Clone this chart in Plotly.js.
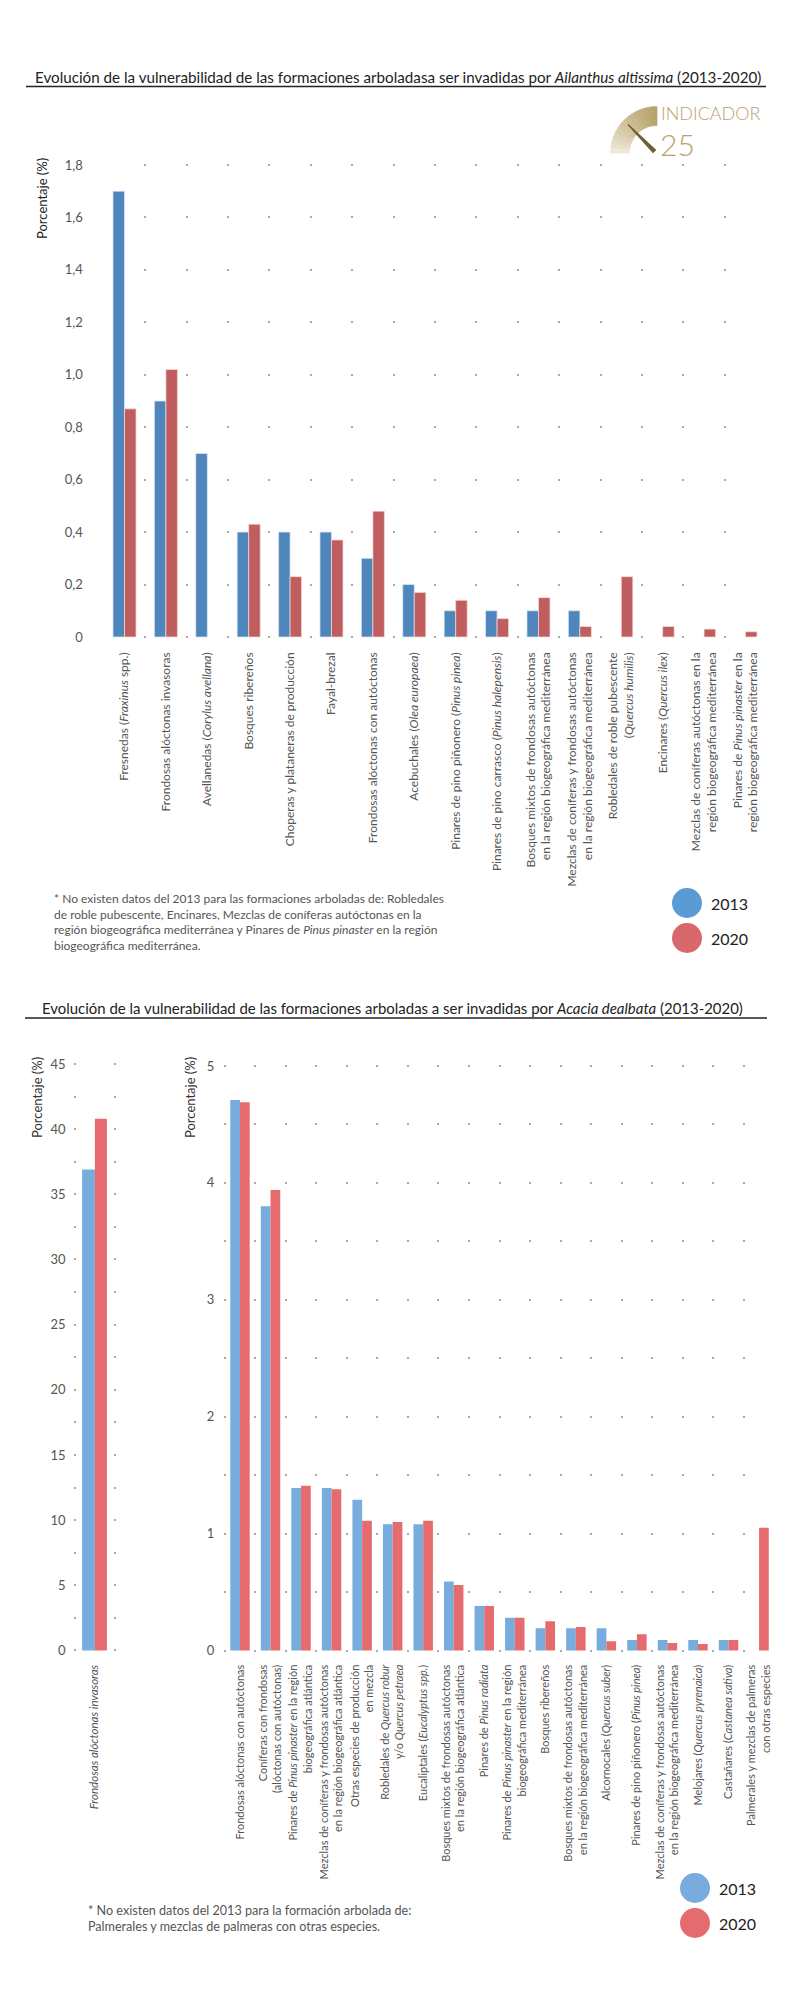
<!DOCTYPE html>
<html><head><meta charset="utf-8">
<script src="https://cdn.plot.ly/plotly-3.0.1.min.js"></script>
<style>body{margin:0;background:#fff}#chart{width:800px;height:2000px}</style>
</head><body><div id="chart"></div>
<script>
// ---------- DATA ----------
const seriesNames = ["2013", "2020"];

const ailanthusCategories = [
  "Fresnedas (<i>Fraxinus</i> spp.)",
  "Frondosas alóctonas invasoras",
  "Avellanedas (<i>Corylus avellana</i>)",
  "Bosques ribereños",
  "Choperas y plataneras de producción",
  "Fayal-brezal",
  "Frondosas alóctonas con autóctonas",
  "Acebuchales (<i>Olea europaea</i>)",
  "Pinares de pino piñonero (<i>Pinus pinea</i>)",
  "Pinares de pino carrasco (<i>Pinus halepensis</i>)",
  "Bosques mixtos de frondosas autóctonas<br>en la región biogeográfica mediterránea",
  "Mezclas de coníferas y frondosas autóctonas<br>en la región biogeográfica mediterránea",
  "Robledales de roble pubescente<br>(<i>Quercus humilis</i>)",
  "Encinares (<i>Quercus ilex</i>)",
  "Mezclas de coníferas autóctonas en la<br>región biogeográfica mediterránea",
  "Pinares de <i>Pinus pinaster</i> en la<br>región biogeográfica mediterránea"
];
const ailanthus2013 = [1.70, 0.90, 0.70, 0.40, 0.40, 0.40, 0.30, 0.20, 0.10, 0.10, 0.10, 0.10, null, null, null, null];
const ailanthus2020 = [0.87, 1.02, null, 0.43, 0.23, 0.37, 0.48, 0.17, 0.14, 0.07, 0.15, 0.04, 0.23, 0.04, 0.03, 0.02];
const ailanthusTickVals = [0, 0.2, 0.4, 0.6, 0.8, 1.0, 1.2, 1.4, 1.6, 1.8];
const ailanthusTickText = ["0", "0,2", "0,4", "0,6", "0,8", "1,0", "1,2", "1,4", "1,6", "1,8"];

const acaciaLeftCategories = ["<i>Frondosas alóctonas invasoras</i>"];
const acaciaLeft2013 = [36.9];
const acaciaLeft2020 = [40.8];
const acaciaLeftTickVals = [0, 5, 10, 15, 20, 25, 30, 35, 40, 45];

const acaciaCategories = [
  "Frondosas alóctonas con autóctonas",
  "Coníferas con frondosas<br>(alóctonas con autóctonas)",
  "Pinares de <i>Pinus pinaster</i> en la región<br>biogeográfica atlántica",
  "Mezclas de coníferas y frondosas autóctonas<br>en la región biogeográfica atlántica",
  "Otras especies de producción<br>en mezcla",
  "Robledales de <i>Quercus robur</i><br>y/o <i>Quercus petraea</i>",
  "Eucaliptales (<i>Eucalyptus spp.</i>)",
  "Bosques mixtos de frondosas autóctonas<br>en la región biogeográfica atlántica",
  "Pinares de <i>Pinus radiata</i>",
  "Pinares de <i>Pinus pinaster</i> en la región<br>biogeográfica mediterránea",
  "Bosques ribereños",
  "Bosques mixtos de frondosas autóctonas<br>en la región biogeográfica mediterránea",
  "Alcornocales (<i>Quercus suber</i>)",
  "Pinares de pino piñonero (<i>Pinus pinea</i>)",
  "Mezclas de coníferas y frondosas autóctonas<br>en la región biogeográfica mediterránea",
  "Melojares (<i>Quercus pyrenaica</i>)",
  "Castañares (<i>Castanea sativa</i>)",
  "Palmerales y mezclas de palmeras<br>con otras especies"
];
const acacia2013 = [4.71, 3.80, 1.39, 1.39, 1.29, 1.08, 1.08, 0.59, 0.38, 0.28, 0.19, 0.19, 0.19, 0.09, 0.09, 0.09, 0.09, null];
const acacia2020 = [4.69, 3.94, 1.41, 1.38, 1.11, 1.10, 1.11, 0.56, 0.38, 0.28, 0.25, 0.20, 0.08, 0.14, 0.065, 0.055, 0.09, 1.05];
const acaciaTickVals = [0, 1, 2, 3, 4, 5];

// ---------- STYLE HELPERS ----------
const W = 800, H = 2000;
const px = x => x / W;
const py = y => 1 - y / H;
const FONT = "Lato, 'Open Sans', sans-serif";
const gray = "#555";
const dotColor = "#a9a9a9";

const c1Blue = "#4f86bc", c1Red = "#bf5d5f";
const c2Blue = "#77acdd", c2Red = "#e56b6e";

const traces = [
  {type: "bar", x: ailanthusCategories, y: ailanthus2013, name: seriesNames[0], xaxis: "x", yaxis: "y",
   width: 0.278, offset: -0.278, marker: {color: c1Blue, line: {color: "rgba(220,232,245,0.9)", width: 0.8}}},
  {type: "bar", x: ailanthusCategories, y: ailanthus2020, name: seriesNames[1], xaxis: "x", yaxis: "y",
   width: 0.278, offset: 0, marker: {color: c1Red, line: {color: "rgba(245,220,220,0.9)", width: 0.8}}},
  {type: "bar", x: acaciaLeftCategories, y: acaciaLeft2013, name: seriesNames[0], xaxis: "x2", yaxis: "y2",
   width: 0.32, offset: -0.31, marker: {color: c2Blue}},
  {type: "bar", x: acaciaLeftCategories, y: acaciaLeft2020, name: seriesNames[1], xaxis: "x2", yaxis: "y2",
   width: 0.30, offset: 0.01, marker: {color: c2Red}},
  {type: "bar", x: acaciaCategories, y: acacia2013, name: seriesNames[0], xaxis: "x3", yaxis: "y3",
   width: 0.318, offset: -0.318, marker: {color: c2Blue}},
  {type: "bar", x: acaciaCategories, y: acacia2020, name: seriesNames[1], xaxis: "x3", yaxis: "y3",
   width: 0.318, offset: 0, marker: {color: c2Red}}
];

function catAxis(domain, anchor, range, dash, fontSize, standoff) {
  return {
    domain: domain, anchor: anchor, type: "category", range: range,
    tickangle: -90, tickson: "boundaries", ticks: "",
    showgrid: true, gridcolor: dotColor, gridwidth: 2, griddash: dash,
    showline: false, zeroline: false, fixedrange: true,
    tickfont: {family: FONT, size: fontSize, color: gray},
    ticklabelstandoff: standoff, automargin: false
  };
}
function valAxis(domain, anchor, range, tickvals, ticktext, fontSize, standoff) {
  return {
    domain: domain, anchor: anchor, range: range, tickmode: "array",
    tickvals: tickvals, ticktext: ticktext, showgrid: false, zeroline: false,
    showline: false, ticks: "", fixedrange: true,
    tickfont: {family: FONT, size: fontSize, color: gray},
    ticklabelstandoff: standoff, automargin: false
  };
}

// ---------- LOGO (decoration) ----------
const shapes = [];
const logoCx = 657, logoCy = 153, rOut = 46.5, rIn = 27.5;
const nSeg = 14;
for (let s = 0; s < nSeg; s++) {
  const a0 = Math.PI - (s / nSeg) * Math.PI / 2;
  const a1 = Math.PI - ((s + 1) / nSeg) * Math.PI / 2;
  const t = (s + 0.5) / nSeg;
  const r = Math.round(245 + (181 - 245) * Math.pow(t, 0.7));
  const g = Math.round(241 + (161 - 241) * Math.pow(t, 0.7));
  const b = Math.round(228 + (104 - 228) * Math.pow(t, 0.7));
  const pts = [];
  const steps = 4;
  for (let k = 0; k <= steps; k++) {
    const a = a0 + (a1 - a0) * k / steps;
    pts.push([logoCx + rOut * Math.cos(a), logoCy - rOut * Math.sin(a)]);
  }
  for (let k = steps; k >= 0; k--) {
    const a = a0 + (a1 - a0) * k / steps;
    pts.push([logoCx + rIn * Math.cos(a), logoCy - rIn * Math.sin(a)]);
  }
  const path = pts.map((p, i) => (i ? "L" : "M") + px(p[0]).toFixed(5) + "," + py(p[1]).toFixed(5)).join(" ") + " Z";
  const col = `rgb(${r},${g},${b})`;
  shapes.push({type: "path", xref: "paper", yref: "paper", path: path, fillcolor: col, line: {color: col, width: 0.6}});
}
// gauge needle
shapes.push({type: "path", xref: "paper", yref: "paper",
  path: `M${px(628)},${py(124.5)} L${px(655.5)},${py(150)} L${px(653)},${py(152.5)} Z`,
  fillcolor: "#6e6033", line: {color: "#6e6033", width: 1.2}});

// underlines
shapes.push({type: "line", xref: "paper", yref: "paper", x0: px(26), x1: px(766), y0: py(86.5), y1: py(86.5), line: {color: "#222", width: 1.4}});
shapes.push({type: "line", xref: "paper", yref: "paper", x0: px(25), x1: px(767), y0: py(1018), y1: py(1018), line: {color: "#222", width: 1.4}});

// legend circles
function circle(cx, cy, rr, col) {
  return {type: "circle", xref: "paper", yref: "paper", x0: px(cx - rr), x1: px(cx + rr), y0: py(cy + rr), y1: py(cy - rr), fillcolor: col, line: {width: 0}};
}
shapes.push(circle(687, 903, 15, "#5b9bd5"));
shapes.push(circle(687, 938, 15, "#d9686a"));
shapes.push(circle(695, 1888, 15, c2Blue));
shapes.push(circle(695, 1923, 15, c2Red));

function ann(x, y, text, size, color, extra) {
  return Object.assign({xref: "paper", yref: "paper", x: px(x), y: py(y), text: text, showarrow: false,
    xanchor: "left", yanchor: "middle", align: "left",
    font: {family: FONT, size: size, color: color}}, extra || {});
}
const gold = "#b7a36b";
const annotations = [
  ann(33, 77, "Evolución de la vulnerabilidad de las formaciones arboladasa ser invadidas por <i>Ailanthus altissima</i> (2013-2020)", 15.2, "#222"),
  ann(40, 1008, "Evolución de la vulnerabilidad de las formaciones arboladas a ser invadidas por <i>Acacia dealbata</i> (2013-2020)", 14.95, "#222"),
  ann(660, 101, "INDICADOR", 18, gold, {yanchor: "top", borderpad: 0, font: {family: FONT, size: 18, color: gold, weight: 300}}),
  ann(659, 125, "25", 30, gold, {yanchor: "top", borderpad: 0, font: {family: FONT, size: 30, color: gold, weight: 300}}),
  ann(42, 199, "Porcentaje (%)", 13, "#222", {textangle: -90, xanchor: "center"}),
  ann(37, 1098, "Porcentaje (%)", 13, "#333", {textangle: -90, xanchor: "center"}),
  ann(190, 1098, "Porcentaje (%)", 13, "#333", {textangle: -90, xanchor: "center"}),
  ann(52, 889, "* No existen datos del 2013 para las formaciones arboladas de: Robledales<br>de roble pubescente, Encinares, Mezclas de coníferas autóctonas en la<br>región biogeográfica mediterránea y Pinares de <i>Pinus pinaster</i> en la región<br>biogeográfica mediterránea.", 12, gray, {yanchor: "top"}),
  ann(86, 1901, "* No existen datos del 2013 para la formación arbolada de:<br>Palmerales y mezclas de palmeras con otras especies.", 12.6, gray, {yanchor: "top"}),
  ann(709, 903, seriesNames[0], 16, "#222"),
  ann(709, 938, seriesNames[1], 16, "#222"),
  ann(717, 1888, seriesNames[0], 16, "#222"),
  ann(717, 1923, seriesNames[1], 16, "#222")
];

const layout = {
  width: W, height: H,
  margin: {l: 0, r: 0, t: 0, b: 0},
  paper_bgcolor: "#fff", plot_bgcolor: "rgba(0,0,0,0)",
  showlegend: false, barmode: "overlay",
  font: {family: FONT, color: gray},
  xaxis: catAxis([px(105.87), px(764.1)], "y", [-0.45, 15.45], "2px,50.44px", 12, 10),
  yaxis: valAxis([py(639), py(164)], "x", [-2 / 262.2, 1.8 + 1 / 262.2], ailanthusTickVals, ailanthusTickText, 13, 22),
  xaxis2: catAxis([px(72.5), px(116.5)], "y2", [-0.55, 0.55], "2px,30.58px", 11.5, 9),
  yaxis2: valAxis([py(1652.5), py(1063)], "x2", [-2 / 13.033, 45 + 1 / 13.033], acaciaLeftTickVals, acaciaLeftTickVals.map(String), 13, 6),
  xaxis3: catAxis([px(223.2), px(772.8)], "y3", [-0.55, 17.45], "2px,56.45px", 11, 9),
  yaxis3: valAxis([py(1652.5), py(1065)], "x3", [-2 / 116.9, 5 + 1 / 116.9], acaciaTickVals, acaciaTickVals.map(String), 13, 8),
  shapes: shapes,
  annotations: annotations
};

Plotly.newPlot("chart", traces, layout, {displayModeBar: false, staticPlot: true});
</script>
</body></html>
